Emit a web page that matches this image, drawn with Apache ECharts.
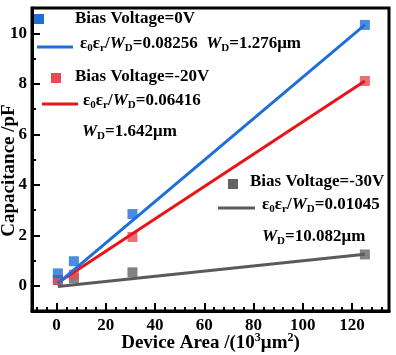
<!DOCTYPE html>
<html><head><meta charset="utf-8">
<script src="https://cdn.jsdelivr.net/npm/echarts@6/dist/echarts.min.js"></script>
<style>html,body{margin:0;padding:0;background:#fff}#c{width:396px;height:355px}</style>
</head><body><div id="c"></div>
<script>
// ---- data ----
var area = [0.5, 7.0, 30.8, 125.2];
var cap0V = [0.49, 0.97, 2.84, 10.33];
var cap20V = [0.23, 0.44, 1.93, 8.11];
var cap30V = [0.22, 0.29, 0.53, 1.24];
var fitX = [0.5, 125.2];
var fit0V = [0.09, 10.33];
var fit20V = [0.12, 8.11];
var fit30V = [-0.03, 1.25];
var xMajor = [0, 20, 40, 60, 80, 100, 120];
var xMinor = [-8, -4, 4, 8, 12, 16, 24, 28, 32, 36, 44, 48, 52, 56, 64, 68, 72, 76, 84, 88, 92, 96, 104, 108, 112, 116, 124, 128, 132];
var yMajor = [0, 2, 4, 6, 8, 10];
var yMinor = [1, 3, 5, 7, 9];

var BLUE = '#1f6fd8', RED = '#e8141a', REDPT = '#e84a52', GRAY = '#5a5a5a', GRAYPT = '#636363';
var FONT = 'Liberation Serif';

function pairs(xs, ys) { return xs.map(function (x, i) { return [x, ys[i]]; }); }

var chart = echarts.init(document.getElementById('c'), null, {renderer: 'canvas'});
var tickLbl = {fontFamily: FONT, fontWeight: 'bold', fontSize: 17, color: '#000'};
var rich = {
  t: {fontFamily: FONT, fontWeight: 'bold', fontSize: 17, color: '#000', lineHeight: 21},
  w: {fontFamily: FONT, fontWeight: 'bold', fontStyle: 'italic', fontSize: 17, color: '#000', lineHeight: 21},
  s: {fontFamily: FONT, fontWeight: 'bold', fontSize: 11, color: '#000', lineHeight: 13, verticalAlign: 'bottom'}
};
function eps(val) { return '{t|ε}{s|0}{t|ε}{s|r}{t|/}{w|W}{s|D}{t|=' + val + '}'; }
function wd(val) { return '{w|W}{s|D}{t|=' + val + 'μm}'; }

function txt(x, y, s) {
  return {type: 'text', left: x, top: y, z: 100, style: {text: s, rich: rich, font: 'bold 17px ' + FONT, fill: '#000'}};
}
function sq(x, y, c) { return {type: 'rect', shape: {x: x - 5, y: y - 5, width: 10, height: 10}, style: {fill: c}, z: 100}; }
function ln(x1, x2, y, c) { return {type: 'line', shape: {x1: x1, y1: y, x2: x2, y2: y}, style: {stroke: c, lineWidth: 3}, z: 100}; }

chart.setOption({
  backgroundColor: '#fff',
  animation: false,
  grid: {left: 32, right: 7, top: 8, bottom: 44, show: true, borderColor: '#000', borderWidth: 3, backgroundColor: 'transparent', containLabel: false, outerBoundsMode: 'none'},
  xAxis: [
    {type: 'value', min: -10, max: 135, position: 'bottom',
     name: '{t|Device Area /(10}{p|3}{t|μm}{p|2}{t|)}', nameLocation: 'middle', nameGap: 21, nameMoveOverlap: false,
     nameTextStyle: {rich: {
       t: {fontFamily: FONT, fontWeight: 'bold', fontSize: 19, color: '#000', lineHeight: 22},
       p: {fontFamily: FONT, fontWeight: 'bold', fontSize: 12, color: '#000', lineHeight: 14, verticalAlign: 'top'}}},
     axisLine: {show: true, onZero: false, lineStyle: {color: '#000', width: 3}},
     axisTick: {show: true, inside: true, length: 8, lineStyle: {color: '#000', width: 2}, customValues: xMajor},
     axisLabel: Object.assign({customValues: xMajor, margin: 6}, tickLbl),
     splitLine: {show: false}},
    {type: 'value', min: -10, max: 135, position: 'bottom', offset: 0,
     axisLine: {show: false, onZero: false},
     axisTick: {show: true, inside: true, length: 4, lineStyle: {color: '#000', width: 2}, customValues: xMinor},
     axisLabel: {show: false}, splitLine: {show: false}}
  ],
  yAxis: [
    {type: 'value', min: -1, max: 11, position: 'left',
     name: 'Capacitance /pF', nameLocation: 'middle', nameGap: 13, nameMoveOverlap: false,
     nameTextStyle: {fontFamily: FONT, fontWeight: 'bold', fontSize: 19, color: '#000', padding: [0, 22, 0, 0]},
     axisLine: {show: true, onZero: false, lineStyle: {color: '#000', width: 3}},
     axisTick: {show: true, inside: true, length: 8, lineStyle: {color: '#000', width: 2}, customValues: yMajor},
     axisLabel: Object.assign({customValues: yMajor, margin: 5}, tickLbl),
     splitLine: {show: false}},
    {type: 'value', min: -1, max: 11, position: 'left', offset: 0,
     axisLine: {show: false, onZero: false},
     axisTick: {show: true, inside: true, length: 4, lineStyle: {color: '#000', width: 2}, customValues: yMinor},
     axisLabel: {show: false}, splitLine: {show: false}}
  ],
  series: [
    {type: 'scatter', symbol: 'rect', symbolSize: 10, itemStyle: {color: GRAYPT}, data: pairs(area, cap30V), z: 2},
    {type: 'scatter', symbol: 'rect', symbolSize: 10, itemStyle: {color: REDPT}, data: pairs(area, cap20V), z: 2},
    {type: 'scatter', symbol: 'rect', symbolSize: 10, itemStyle: {color: BLUE}, data: pairs(area, cap0V), z: 2},
    {type: 'line', showSymbol: false, lineStyle: {color: GRAY, width: 3}, data: pairs(fitX, fit30V), z: 3},
    {type: 'line', showSymbol: false, lineStyle: {color: RED, width: 3}, data: pairs(fitX, fit20V), z: 3},
    {type: 'line', showSymbol: false, lineStyle: {color: BLUE, width: 3}, data: pairs(fitX, fit0V), z: 3}
  ],
  graphic: [
    sq(39, 19, BLUE), txt(75, 10, '{t|Bias Voltage=0V}'),
    ln(37, 73, 47, BLUE), txt(80, 35, eps('0.08256') + '{t|  }' + wd('1.276')),
    sq(56, 78, REDPT), txt(75, 68, '{t|Bias Voltage=-20V}'),
    ln(42, 78, 104, RED), txt(83, 92, eps('0.06416')),
    txt(82, 123, wd('1.642')),
    sq(233, 184, GRAYPT), txt(250, 173, '{t|Bias Voltage=-30V}'),
    ln(218, 255, 208, GRAY), txt(262, 196, eps('0.01045')),
    txt(262, 228, wd('10.082'))
  ]
});
</script></body></html>
